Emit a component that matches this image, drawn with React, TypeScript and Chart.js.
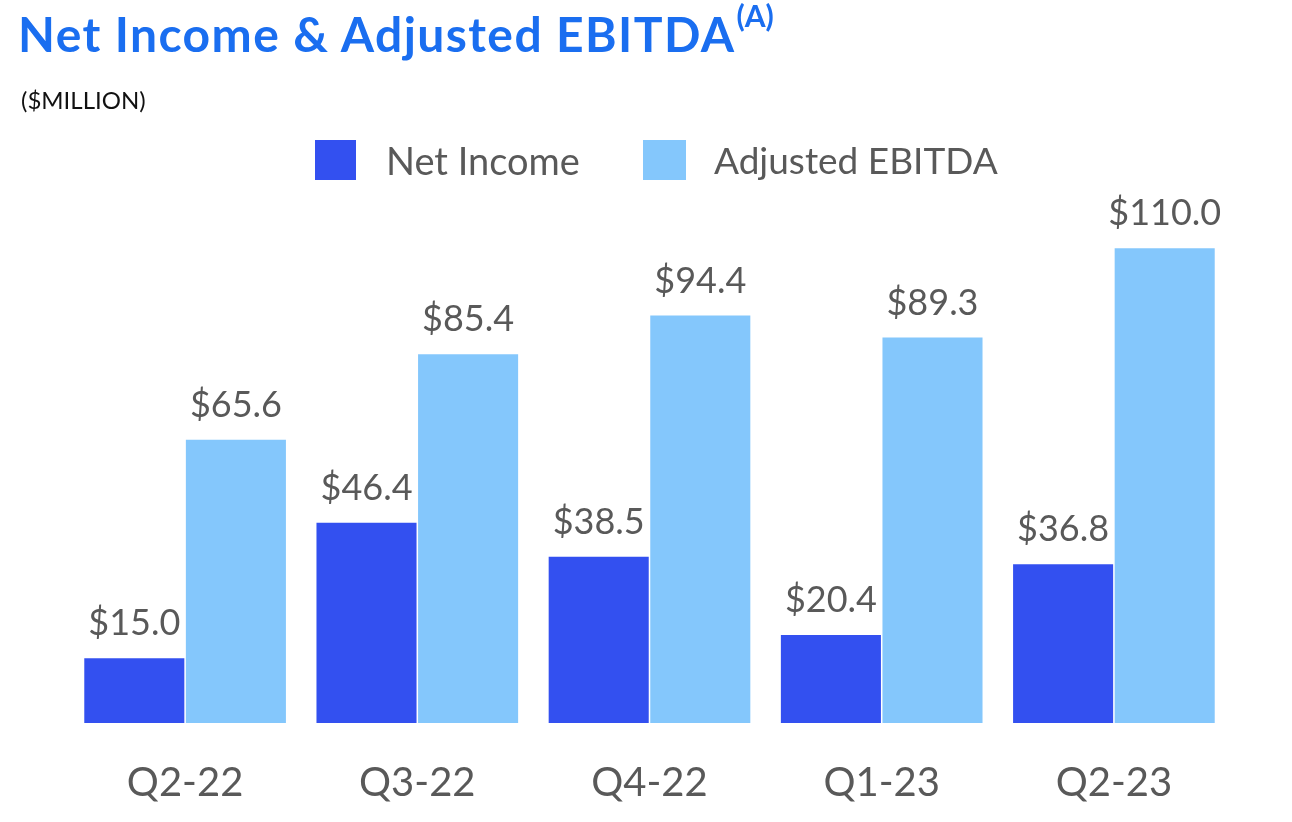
import React, { useEffect, useRef } from "react";
import { Chart, registerables } from "chart.js";

Chart.register(...registerables);

const categories = ["Q2-22", "Q3-22", "Q4-22", "Q1-23", "Q2-23"];
const netIncome = [15.0, 46.4, 38.5, 20.4, 36.8];
const adjustedEbitda = [65.6, 85.4, 94.4, 89.3, 110.0];
const seriesNames = ["Net Income", "Adjusted EBITDA"];
const seriesColors = ["#3350F0", "#84C7FC"];

const FONT = "Lato, 'Open Sans', sans-serif";
const GRAY = "#595959";

const dataLabelPlugin = {
  id: "dataLabels",
  afterDatasetsDraw(chart: any) {
    const ctx = chart.ctx;
    ctx.save();
    ctx.font = `36px ${FONT}`;
    ctx.fillStyle = GRAY;
    ctx.textAlign = "center";
    ctx.textBaseline = "alphabetic";
    chart.data.datasets.forEach((ds: any, di: number) => {
      const meta = chart.getDatasetMeta(di);
      meta.data.forEach((bar: any, i: number) => {
        const v = ds.data[i] as number;
        ctx.fillText("$" + v.toFixed(1), bar.x, bar.y - 23);
      });
    });
    ctx.restore();
  },
};

export default function App() {
  const ref = useRef<HTMLCanvasElement | null>(null);
  useEffect(() => {
    if (!ref.current) return;
    const chart = new Chart(ref.current, {
      type: "bar",
      data: {
        labels: categories,
        datasets: [
          {
            label: seriesNames[0],
            data: netIncome,
            backgroundColor: seriesColors[0],
            categoryPercentage: 0.875,
            barPercentage: 0.985,
          },
          {
            label: seriesNames[1],
            data: adjustedEbitda,
            backgroundColor: seriesColors[1],
            categoryPercentage: 0.875,
            barPercentage: 0.985,
          },
        ],
      },
      options: {
        responsive: false,
        animation: false,
        layout: { padding: { left: 69, right: 62, top: 205, bottom: 0 } },
        plugins: { legend: { display: false }, tooltip: { enabled: false } },
        scales: {
          x: {
            grid: { display: false },
            border: { display: false },
            ticks: { color: GRAY, font: { family: FONT, size: 40 }, padding: 28 },
          },
          y: { display: false, min: 0, max: 120 },
        },
      },
      plugins: [dataLabelPlugin],
    });
    return () => chart.destroy();
  }, []);

  return (
    <div style={{ position: "fixed", left: 0, top: 0, width: 1292, height: 822, overflow: "hidden", background: "#fff", fontFamily: FONT }}>
      <canvas ref={ref} width={1292} height={835} style={{ position: "absolute", left: 0, top: 0, width: 1292, height: 835 }} />
      <div style={{ position: "absolute", left: 18, top: 10, fontSize: 48, lineHeight: "48px", fontWeight: 700, letterSpacing: "1.4px", color: "#1A6EF0", whiteSpace: "nowrap" }}>
        Net Income &amp; Adjusted EBITDA
        <sup style={{ fontSize: 30, position: "relative", top: -10, verticalAlign: "top", lineHeight: "30px", letterSpacing: 0, marginLeft: 1 }}>(A)</sup>
      </div>
      <div style={{ position: "absolute", left: 21, top: 88, fontSize: 24, lineHeight: "24px", color: "#111" }}>($MILLION)</div>
      <div style={{ position: "absolute", left: 315, top: 140, width: 41, height: 40, background: seriesColors[0] }} />
      <div style={{ position: "absolute", left: 386, top: 140, fontSize: 38, lineHeight: "40px", color: GRAY, whiteSpace: "nowrap" }}>{seriesNames[0]}</div>
      <div style={{ position: "absolute", left: 643, top: 140, width: 43, height: 40, background: seriesColors[1] }} />
      <div style={{ position: "absolute", left: 714, top: 140, fontSize: 37, lineHeight: "40px", color: GRAY, whiteSpace: "nowrap" }}>{seriesNames[1]}</div>
    </div>
  );
}
